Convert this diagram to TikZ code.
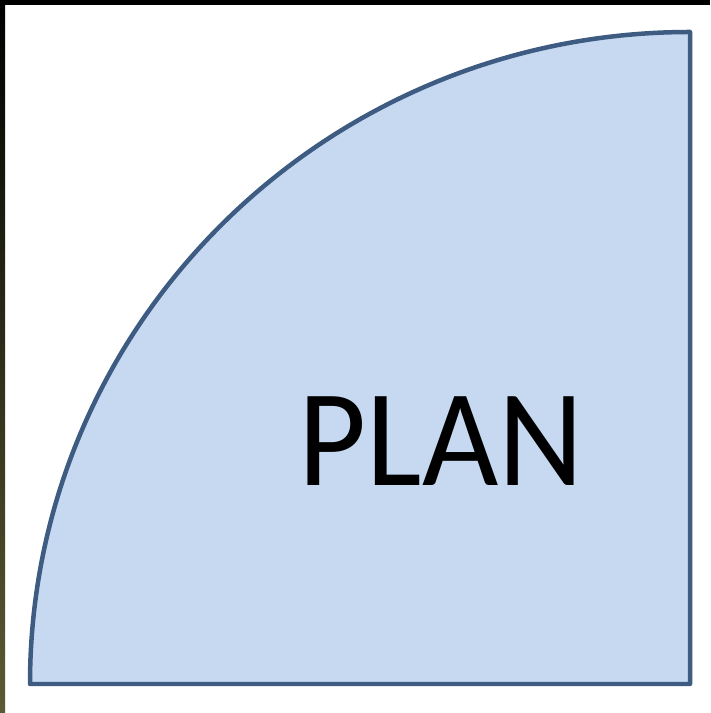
\documentclass[tikz,border=0pt]{standalone}
\usepackage{fontspec}
\setmainfont{Carlito}
\definecolor{planfill}{HTML}{C6D9F1}
\definecolor{planedge}{HTML}{3E5B82}
\definecolor{olivestrip}{HTML}{5C5A34}
\begin{document}
\begin{tikzpicture}[
			x=0.02cm, y=0.02cm,
			every node/.style={font=\fontsize{75}{82}\selectfont, align=center},
			plan/.style={draw=planedge, fill=planfill, line width=0.09cm, line join=round}
		]
			\useasboundingbox (0,0) rectangle (710,713);
			\fill[white] (0,0) rectangle (710,713);
			\shade[top color=black, bottom color=olivestrip] (0,0) rectangle (5,713);
			\fill[black] (0,708) rectangle (710,713);

			\coordinate (corner) at (690,29);
			\coordinate (top) at (690,681);
			\coordinate (left) at (30,29);
			\draw[plan] (left) arc[start angle=180, end angle=90, x radius=660, y radius=652] -- (corner) -- cycle;

			\node[yscale=1.05] (plan) at (441,272) {PLAN};
		\end{tikzpicture}
\end{document}
